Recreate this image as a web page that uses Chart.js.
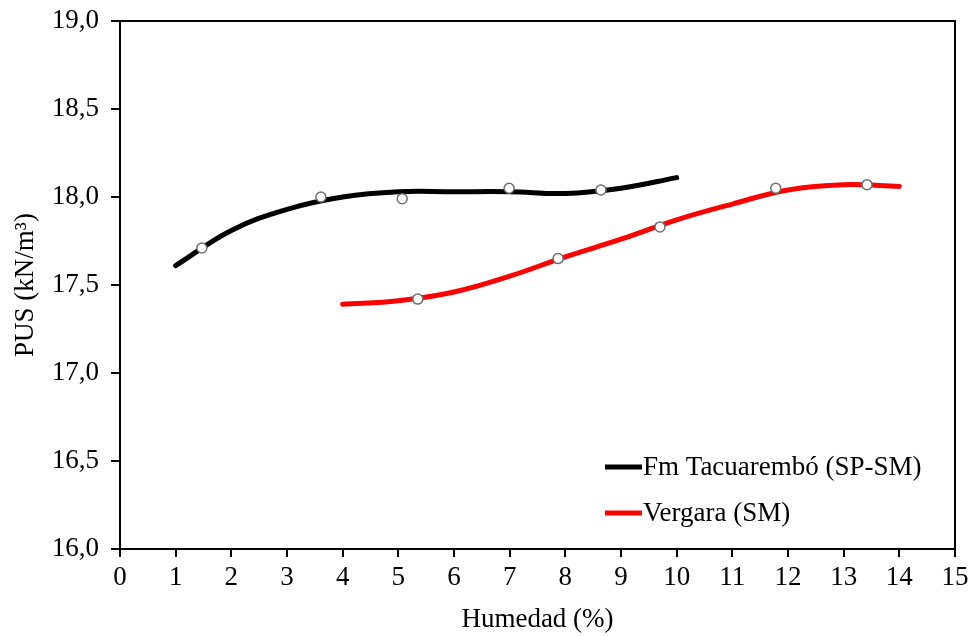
<!DOCTYPE html>
<html>
<head>
<meta charset="utf-8">
<script src="https://cdn.jsdelivr.net/npm/chart.js@4"></script>
<style>
  html, body { margin: 0; padding: 0; background: #fff; }
  #wrap { width: 974px; height: 636px; }
</style>
</head>
<body>
<div id="wrap"><canvas id="chart"></canvas></div>
<script>
// fitted curves
const tacuaremboX = [1, 2, 3, 4, 5, 6, 7, 8, 9, 10];
const tacuaremboY = [17.61, 17.81, 17.93, 18.00, 18.03, 18.03, 18.03, 18.02, 18.05, 18.11];
const vergaraX = [4, 5, 6, 7, 8, 9, 10, 11, 12, 13, 14];
const vergaraY = [17.39, 17.41, 17.46, 17.55, 17.66, 17.76, 17.87, 17.96, 18.04, 18.07, 18.06];

// measured points
const tacuaremboPtsX = [1.47, 3.61, 5.07, 6.99, 8.64];
const tacuaremboPtsY = [17.71, 18.00, 17.99, 18.05, 18.04];
const vergaraPtsX = [5.35, 7.87, 9.70, 11.78, 13.42];
const vergaraPtsY = [17.42, 17.65, 17.83, 18.05, 18.07];

const seriesNames = ["Fm Tacuarembó (SP-SM)", "Vergara (SM)"];
const seriesColors = ["#000000", "#ff0000"];

const FONT = "'Liberation Serif', 'Times New Roman', serif";
const FSIZE = 27;

function toXY(xs, ys) {
  return xs.map((x, i) => ({ x: x, y: ys[i] }));
}

// frame + legend drawn on top
const framePlugin = {
  id: "frame",
  afterDraw(chart) {
    const { ctx, chartArea: a } = chart;
    ctx.save();
    ctx.strokeStyle = "#000";
    ctx.lineWidth = 2;
    ctx.strokeRect(a.left, a.top, a.right - a.left, a.bottom - a.top);

    ctx.font = FSIZE + "px " + FONT;
    ctx.textBaseline = "middle";
    ctx.textAlign = "left";
    seriesNames.forEach((name, i) => {
      const y = a.bottom - 82 + i * 46;
      const x0 = a.right - 350;
      ctx.strokeStyle = seriesColors[i];
      ctx.lineWidth = 5;
      ctx.beginPath();
      ctx.moveTo(x0, y);
      ctx.lineTo(x0 + 37, y);
      ctx.stroke();
      ctx.fillStyle = "#000";
      ctx.fillText(name, x0 + 38, y + 1);
    });
    ctx.restore();
  }
};

const markerStyle = {
  showLine: false,
  order: 1,
  pointRadius: 5,
  pointBackgroundColor: "#ffffff",
  pointBorderColor: "#707070",
  pointBorderWidth: 1.5
};

const curveStyle = {
  showLine: true,
  order: 2,
  borderWidth: 5,
  borderCapStyle: "round",
  tension: 0.4,
  pointRadius: 0
};

new Chart(document.getElementById("chart"), {
  type: "scatter",
  data: {
    datasets: [
      Object.assign({ label: seriesNames[0], data: toXY(tacuaremboX, tacuaremboY), borderColor: seriesColors[0] }, curveStyle),
      Object.assign({ label: seriesNames[1], data: toXY(vergaraX, vergaraY), borderColor: seriesColors[1] }, curveStyle),
      Object.assign({ label: "pts1", data: toXY(tacuaremboPtsX, tacuaremboPtsY) }, markerStyle),
      Object.assign({ label: "pts2", data: toXY(vergaraPtsX, vergaraPtsY) }, markerStyle)
    ]
  },
  options: {
    responsive: true,
    maintainAspectRatio: false,
    animation: false,
    layout: { padding: { top: 21, right: 19, left: 0, bottom: 0 } },
    plugins: {
      legend: { display: false },
      tooltip: { enabled: false }
    },
    scales: {
      x: {
        type: "linear",
        min: 0,
        max: 15,
        afterFit: (s) => { s.height = 87; s.paddingLeft = 0; s.paddingRight = 0; },
        ticks: {
          stepSize: 1,
          color: "#000",
          padding: 5,
          font: { family: FONT, size: FSIZE }
        },
        grid: {
          drawOnChartArea: false,
          drawTicks: true,
          tickLength: 8,
          color: "#000",
          lineWidth: 2
        },
        border: { color: "#000", width: 2 },
        title: {
          display: true,
          text: "Humedad (%)",
          color: "#000",
          padding: { top: 0, bottom: 0 },
          font: { family: FONT, size: FSIZE }
        }
      },
      y: {
        min: 16,
        max: 19,
        afterFit: (s) => { s.width = 120; s.paddingTop = 0; s.paddingBottom = 0; },
        ticks: {
          stepSize: 0.5,
          color: "#000",
          padding: 12,
          font: { family: FONT, size: FSIZE },
          callback: (v) => v.toFixed(1).replace(".", ",")
        },
        grid: {
          drawOnChartArea: false,
          drawTicks: true,
          tickLength: 9,
          color: "#000",
          lineWidth: 2
        },
        border: { color: "#000", width: 2 },
        title: {
          display: true,
          text: "PUS (kN/m³)",
          color: "#000",
          padding: { top: 10, bottom: 0 },
          font: { family: FONT, size: FSIZE }
        }
      }
    }
  },
  plugins: [framePlugin]
});
</script>
</body>
</html>
